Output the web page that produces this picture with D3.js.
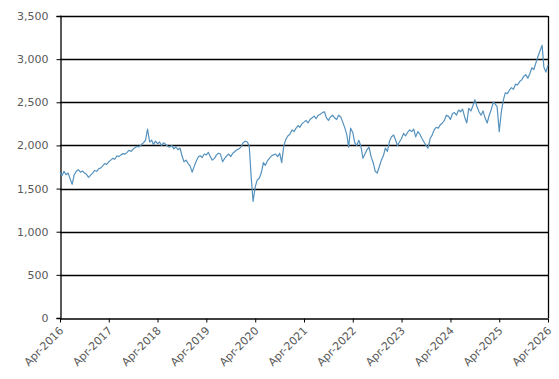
<!DOCTYPE html>
<html><head><meta charset="utf-8">
<script src="https://cdn.jsdelivr.net/npm/d3@7"></script>
<style>body{margin:0;background:#fff;} svg{display:block;}</style>
</head><body>
<svg id="chart" width="559" height="379"></svg>
<script>
// Semi-monthly values (1st and 16th of each month), April to March of each year
const fy2016 = [1690,1650,1700,1660,1680,1610,1550,1660,1700,1720,1690,1705,1680,1665,1630,1655,1680,1710,1700,1730,1740,1765,1790,1780];
const fy2017 = [1810,1830,1850,1840,1880,1870,1890,1905,1900,1920,1945,1930,1960,1975,1990,1985,2010,2030,2060,2190,2040,2060,2010,2050];
const fy2018 = [2020,2040,2000,2030,2010,1990,1980,2000,1960,1985,1950,1970,1880,1810,1830,1790,1760,1690,1760,1820,1870,1880,1860,1900];
const fy2019 = [1890,1920,1870,1830,1850,1890,1910,1900,1810,1850,1880,1900,1870,1910,1930,1950,1960,1980,2030,2050,2040,2000,1650,1350];
const fy2020 = [1520,1600,1620,1680,1800,1770,1820,1850,1880,1890,1900,1870,1910,1800,2000,2070,2110,2130,2180,2160,2200,2230,2210,2250];
const fy2021 = [2270,2290,2260,2300,2320,2340,2310,2350,2360,2380,2390,2320,2290,2330,2350,2320,2300,2350,2330,2270,2200,2120,1980,2200];
const fy2022 = [2150,2030,2000,2060,1990,1850,1900,1950,1980,1870,1800,1700,1680,1750,1830,1880,1970,1930,2050,2100,2120,2060,2000,2040];
const fy2023 = [2080,2140,2110,2150,2180,2160,2190,2100,2160,2130,2080,2040,2000,1970,2080,2120,2180,2210,2200,2240,2260,2290,2350,2340];
const fy2024 = [2300,2370,2380,2350,2410,2390,2420,2330,2260,2430,2400,2460,2530,2450,2390,2350,2400,2320,2260,2350,2420,2500,2480,2450];
const fy2025 = [2160,2380,2520,2610,2600,2640,2670,2650,2710,2700,2740,2760,2800,2820,2780,2830,2900,2880,2960,3030,3100,3160,2910,2850];
const lastValue = 2930; // 1 Apr 2026

const fiscalYears = [2016,2017,2018,2019,2020,2021,2022,2023,2024,2025];
const fyValues = [fy2016,fy2017,fy2018,fy2019,fy2020,fy2021,fy2022,fy2023,fy2024,fy2025];
const yTicks = [0,500,1000,1500,2000,2500,3000,3500];
const xTickYears = [2016,2017,2018,2019,2020,2021,2022,2023,2024,2025,2026];

const data = [];
fyValues.forEach((vals, fi) => {
  vals.forEach((v, i) => {
    const m = 3 + Math.floor(i / 2); // April = 3
    const day = (i % 2 === 0) ? 1 : 16;
    data.push({date: new Date(fiscalYears[fi], m, day), value: v});
  });
});
data.push({date: new Date(2026, 3, 1), value: lastValue});

const margin = {left: 60, right: 11, top: 16, bottom: 61};
const W = 559, H = 379;
const svg = d3.select("#chart");
const x = d3.scaleTime().domain([new Date(2016,3,1), new Date(2026,3,1)]).range([margin.left, W - margin.right]);
const y = d3.scaleLinear().domain([0,3500]).range([H - margin.bottom, margin.top]);

const font = "'DejaVu Sans', Verdana, sans-serif";

// gridlines
svg.append("g").selectAll("line").data(yTicks.filter(d => d > 0)).join("line")
  .attr("x1", margin.left).attr("x2", W - margin.right)
  .attr("y1", d => Math.round(y(d)) + 0.5).attr("y2", d => Math.round(y(d)) + 0.5)
  .attr("stroke", "#000").attr("stroke-width", 1.3);

// right border
svg.append("line")
  .attr("x1", W - margin.right + 0.5).attr("x2", W - margin.right + 0.5)
  .attr("y1", margin.top).attr("y2", H - margin.bottom)
  .attr("stroke", "#000").attr("stroke-width", 1.3);

// y axis
const yAxis = svg.append("g").attr("transform", `translate(${margin.left + 0.5},0)`)
  .call(d3.axisLeft(y).tickValues(yTicks).tickFormat(d3.format(",")).tickSize(4).tickPadding(8));
yAxis.select(".domain").attr("stroke", "#000").attr("stroke-width", 1.3);
yAxis.selectAll(".tick line").attr("stroke", "#000");
yAxis.selectAll("text").attr("font-family", font).attr("font-size", 11).attr("fill", "#595959");

// x axis
const fmt = d3.timeFormat("%b-%Y");
const xAxis = svg.append("g").attr("transform", `translate(0,${Math.round(y(0)) + 0.5})`)
  .call(d3.axisBottom(x).tickValues(xTickYears.map(yr => new Date(yr,3,1))).tickFormat(fmt).tickSize(4).tickSizeOuter(0));
xAxis.select(".domain").attr("stroke", "#000").attr("stroke-width", 1.3);
xAxis.selectAll(".tick line").attr("stroke", "#000");
xAxis.selectAll("text")
  .attr("font-family", font).attr("font-size", 11).attr("fill", "#595959")
  .attr("text-anchor", "end").attr("x", 0).attr("y", 0).attr("dy", "0.35em")
  .attr("transform", "translate(1,10) rotate(-45)");

// line
svg.append("path").datum(data)
  .attr("fill", "none").attr("stroke", "#5592BE").attr("stroke-width", 1.2)
  .attr("stroke-linejoin", "round")
  .attr("d", d3.line().x(d => x(d.date)).y(d => y(d.value)));
</script>
</body></html>
